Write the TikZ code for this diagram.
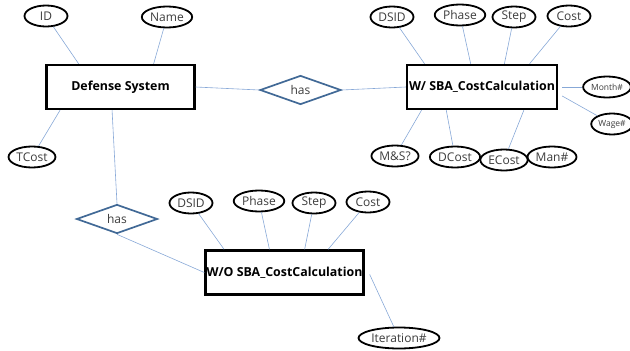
\documentclass[tikz,border=0pt]{standalone}
\usepackage{fontspec}
\setmainfont{Open Sans}
\usetikzlibrary{shapes.geometric}

\definecolor{linkblue}{RGB}{135,168,215}
\definecolor{relblue}{RGB}{65,105,150}
\definecolor{attrgray}{RGB}{60,60,60}

\tikzset{
  attr/.style={ellipse, draw=black, line width=1.8pt, inner sep=1pt, minimum width=43pt, minimum height=21pt, text=attrgray, font=\fontsize{12}{12}\selectfont},
  smallattr/.style={attr, font=\fontsize{8.5}{9}\selectfont},
  entity/.style={rectangle, draw=black, line width=2.4pt, minimum height=44pt, inner sep=0pt, font=\bfseries\fontsize{12.4}{13}\selectfont},
  rel/.style={diamond, draw=relblue, line width=1.7pt, inner sep=0pt, minimum width=81pt, minimum height=27pt, text=attrgray, font=\fontsize{12}{12}\selectfont},
  link/.style={draw=linkblue, line width=0.6pt}
}

\begin{document}
\begin{tikzpicture}[x=1pt,y=-1pt]
  \useasboundingbox (0,0) rectangle (630,351);

  % entities
  \node [entity, minimum width=148pt] (DefSys) at (120.5,87) {Defense System};
  \node [entity, minimum width=150pt] (WithSBA) at (482,87) {\makebox[140pt]{W/ SBA\_CostCalculation}};
  \node [entity, minimum width=158pt] (NoSBA) at (284.5,272.5) {W/O SBA\_CostCalculation};

  % relationships
  \node [rel] (HasTop) at (300.5,90) {has};
  \node [rel] (HasLeft) at (117,219) {has};

  % attributes of the defense system
  \node [attr] (ID) at (46,16) {ID};
  \node [attr] (Name) at (167,17) {Name};
  \node [attr] (TCost) at (32,157) {TCost};

  % attributes with SBA
  \node [attr] (DSIDa) at (392,17) {DSID};
  \node [attr] (Phasea) at (460,15) {Phase};
  \node [attr] (Stepa) at (514,17) {Step};
  \node [attr] (Costa) at (569,16) {Cost};
  \node [smallattr] (Month) at (607,87) {Month\#};
  \node [smallattr, minimum width=40pt] (Wage) at (612,124) {Wage\#};
  \node [attr] (MandS) at (395,156) {M\&S?};
  \node [attr] (DCost) at (455,157) {DCost};
  \node [attr] (ECost) at (504,160) {ECost};
  \node [attr] (Man) at (552,157) {Man\#};

  % attributes without SBA
  \node [attr] (DSIDb) at (191,203) {DSID};
  \node [attr] (Phaseb) at (259,201) {Phase};
  \node [attr] (Stepb) at (314,203) {Step};
  \node [attr] (Costb) at (368,202) {Cost};
  \node [attr, minimum width=68pt] (Iter) at (399,338) {Iteration\#};

  \draw [link] (ID) -- (DefSys.151);
  \draw [link] (Name) -- (DefSys.35);
  \draw [link] (TCost) -- (DefSys.201);
  \draw [link] (DefSys.east) -- (HasTop.west);
  \draw [link] (HasTop.east) -- (WithSBA.west);
  \draw [link] (DefSys.250) -- (HasLeft.north);
  \draw [link] (HasLeft.south) -- (NoSBA.west);

  \draw [link] (DSIDa) -- (WithSBA.158);
  \draw [link] (Phasea) -- (WithSBA.116);
  \draw [link] (Stepa) -- (WithSBA.46);
  \draw [link] (Costa) -- (WithSBA.26);
  \draw [link] ([xshift=4pt]WithSBA.east) -- (Month);
  \draw [link] ([xshift=4pt,yshift=-9pt]WithSBA.east) -- (Wage);
  \draw [link] (MandS) -- (WithSBA.201);
  \draw [link] (DCost) -- (WithSBA.213);
  \draw [link] (ECost) -- (WithSBA.331);

  \draw [link] (DSIDb) -- (NoSBA.159);
  \draw [link] (Phaseb) -- (NoSBA.123);
  \draw [link] (Stepb) -- (NoSBA.49);
  \draw [link] (Costb) -- (NoSBA.28);
  \draw [link] ([xshift=5pt,yshift=-2pt]NoSBA.east) -- (Iter);

\end{tikzpicture}
\end{document}
